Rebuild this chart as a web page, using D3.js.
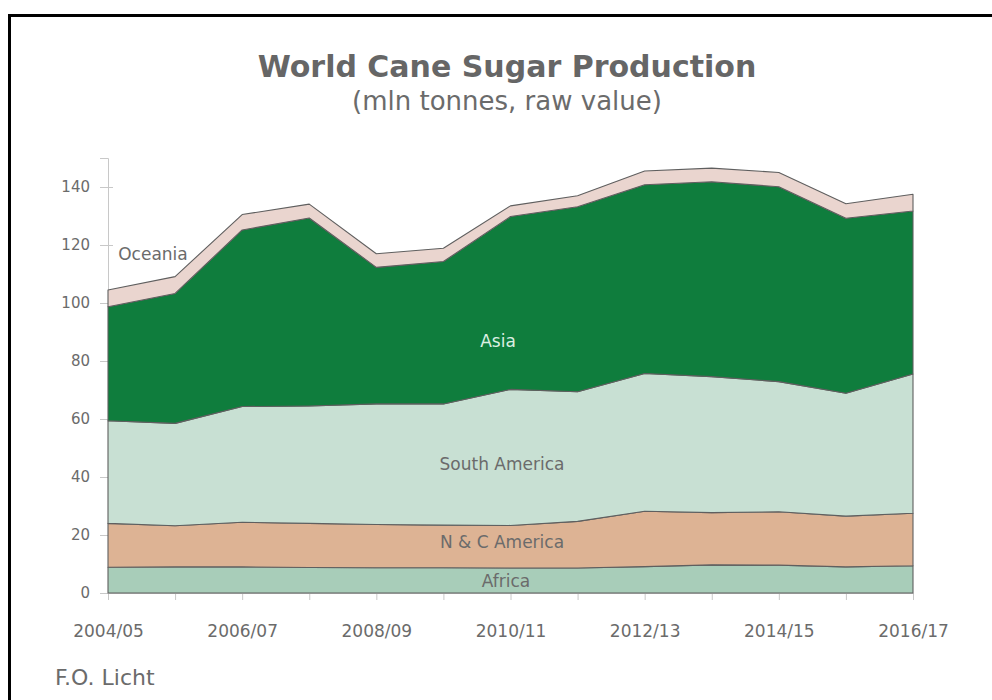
<!DOCTYPE html>
<html>
<head>
<meta charset="utf-8">
<script src="https://cdn.jsdelivr.net/npm/d3@7"></script>
<style>
  body { margin: 0; background: #fff; }
  svg { display: block; font-family: "DejaVu Sans", Verdana, sans-serif; }
  .axis path, .axis line { stroke: #c8c8c8; }
  .axis text { fill: #6b6b6b; font-family: "DejaVu Sans", Verdana, sans-serif; }
</style>
</head>
<body>
<div id="chart"></div>
<script>
var seasons = ["2004/05", "2005/06", "2006/07", "2007/08", "2008/09", "2009/10", "2010/11",
  "2011/12", "2012/13", "2013/14", "2014/15", "2015/16", "2016/17"];

// mln tonnes, raw value
var africa = [8.9, 9.0, 9.0, 8.8, 8.7, 8.7, 8.6, 8.6, 9.1, 9.7, 9.6, 9.0, 9.4];
var ncAmerica = [15.1, 14.2, 15.4, 15.2, 14.9, 14.7, 14.7, 16.1, 19.1, 18.0, 18.4, 17.5, 18.1];
var southAmerica = [35.4, 35.3, 39.9, 40.5, 41.6, 41.8, 46.9, 44.7, 47.5, 46.9, 44.9, 42.4, 48.0];
var asia = [39.3, 44.8, 60.9, 64.8, 47.1, 49.1, 59.6, 63.8, 65.1, 67.2, 67.2, 60.3, 56.2];
var oceania = [5.8, 5.8, 5.3, 4.8, 4.7, 4.6, 3.7, 3.8, 4.7, 4.7, 4.9, 5.0, 5.8];

var yTicks = [0, 20, 40, 60, 80, 100, 120, 140];

var regions = ["Africa", "N & C America", "South America", "Asia", "Oceania"];
var colors = {
  "Africa": "#a8cdb9",
  "N & C America": "#ddb394",
  "South America": "#c8e0d3",
  "Asia": "#0f7d3d",
  "Oceania": "#ead5cf"
};

var rows = seasons.map(function(s, i) {
  return {
    season: s,
    "Africa": africa[i],
    "N & C America": ncAmerica[i],
    "South America": southAmerica[i],
    "Asia": asia[i],
    "Oceania": oceania[i]
  };
});

var width = 992, height = 700;
var svg = d3.select("#chart").append("svg")
  .attr("width", width)
  .attr("height", height);

// frame
svg.append("rect")
  .attr("x", 9.5).attr("y", 15.5)
  .attr("width", 1000).attr("height", 700)
  .attr("fill", "none")
  .attr("stroke", "#000")
  .attr("stroke-width", 3);

var x = d3.scalePoint()
  .domain(seasons)
  .range([108, 913]);

var y = d3.scaleLinear()
  .domain([0, 150])
  .range([593, 158]);

svg.append("g")
  .attr("class", "y axis")
  .attr("transform", "translate(108,0)")
  .call(d3.axisLeft(y).tickValues(yTicks).tickSize(8).tickPadding(10))
  .call(function(g) {
    g.attr("font-family", null);
    g.selectAll("text").style("font-size", "15px");
    g.selectAll(".tick line").attr("x2", -8).attr("x1", 5);
  });

svg.append("g")
  .attr("class", "x axis")
  .attr("transform", "translate(0,593)")
  .call(d3.axisBottom(x).tickSize(7).tickPadding(25)
    .tickFormat(function(d, i) { return i % 2 == 0 ? d : ""; }))
  .call(function(g) {
    g.attr("font-family", null);
    g.selectAll("text").style("font-size", "17px");
  });

var stack = d3.stack().keys(regions);
var series = stack(rows);

var area = d3.area()
  .x(function(d) { return x(d.data.season); })
  .y0(function(d) { return y(d[0]); })
  .y1(function(d) { return y(d[1]); });

svg.append("g").selectAll("path")
  .data(series)
  .enter()
  .append("path")
  .attr("d", area)
  .attr("fill", function(d) { return colors[d.key]; })
  .attr("stroke", "#5f5f5f")
  .attr("stroke-width", 1.1)
  .attr("stroke-linejoin", "round");

// area labels
var labels = [
  { text: "Oceania", x: 153, y: 260, color: "#6b6b6b" },
  { text: "Asia", x: 498, y: 347, color: "#dcefe2" },
  { text: "South America", x: 502, y: 470, color: "#6b6b6b" },
  { text: "N & C America", x: 502, y: 548, color: "#6b6b6b" },
  { text: "Africa", x: 506, y: 587, color: "#6b6b6b" }
];

svg.append("g").selectAll("text")
  .data(labels)
  .enter()
  .append("text")
  .attr("x", function(d) { return d.x; })
  .attr("y", function(d) { return d.y; })
  .attr("text-anchor", "middle")
  .style("font-size", "17px")
  .style("fill", function(d) { return d.color; })
  .text(function(d) { return d.text; });

svg.append("text")
  .attr("x", 507).attr("y", 77)
  .attr("text-anchor", "middle")
  .style("font-size", "30px")
  .style("font-weight", "bold")
  .style("fill", "#666")
  .text("World Cane Sugar Production");

svg.append("text")
  .attr("x", 507).attr("y", 110)
  .attr("text-anchor", "middle")
  .style("font-size", "26px")
  .style("fill", "#6b6b6b")
  .text("(mln tonnes, raw value)");

svg.append("text")
  .attr("x", 55).attr("y", 685)
  .style("font-size", "22px")
  .style("fill", "#6b6b6b")
  .text("F.O. Licht");
</script>
</body>
</html>
